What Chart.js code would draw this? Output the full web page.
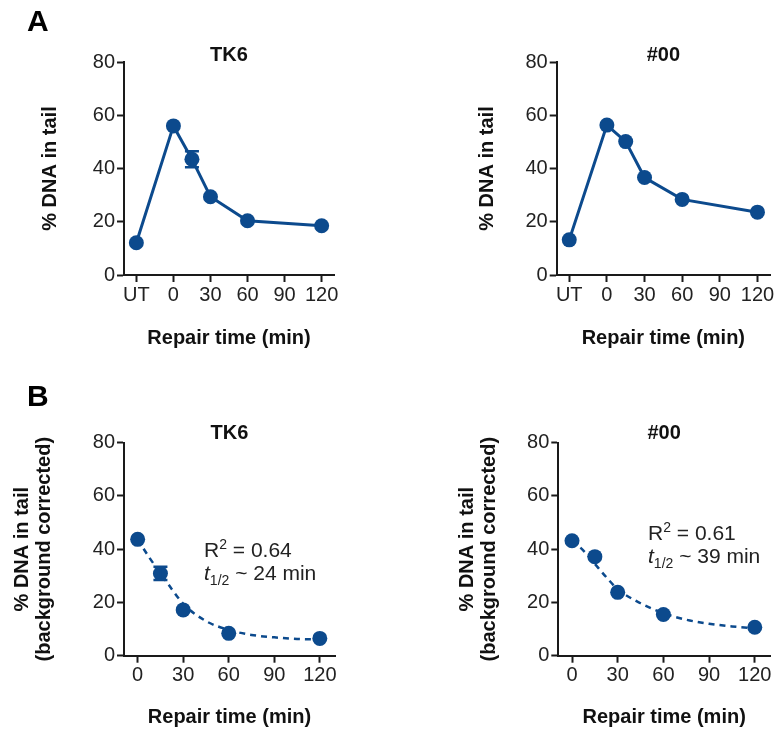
<!DOCTYPE html>
<html>
<head>
<meta charset="utf-8">
<script src="https://cdn.jsdelivr.net/npm/chart.js@4.4.1/dist/chart.umd.min.js"></script>
<style>
  html, body { margin: 0; padding: 0; background: #fff; }
  #wrap { position: relative; width: 780px; height: 734px; overflow: hidden; font-family: 'Liberation Sans', Arial, sans-serif; }
  .cv { position: absolute; }
  .letter { position: absolute; font-weight: bold; font-size: 30px; line-height: 1; color: #000; }
  .note { position: absolute; font-size: 21px; line-height: 23px; color: #222; white-space: nowrap; }
  .note sup { font-size: 14px; vertical-align: 8px; line-height: 0; }
  .note sub { font-size: 14px; vertical-align: -5px; line-height: 0; }
</style>
</head>
<body>
<div id="wrap">
  <canvas id="cA1" class="cv" width="390" height="367" style="left:0;top:0"></canvas>
  <canvas id="cA2" class="cv" width="390" height="367" style="left:390px;top:0"></canvas>
  <canvas id="cB1" class="cv" width="390" height="367" style="left:0;top:367px"></canvas>
  <canvas id="cB2" class="cv" width="390" height="367" style="left:390px;top:367px"></canvas>
  <div class="letter" style="left:27px;top:6px">A</div>
  <div class="letter" style="left:27px;top:381px">B</div>
  <div class="note" style="left:204px;top:538px">R<sup>2</sup> = 0.64<br><i>t</i><sub>1/2</sub> ~ 24 min</div>
  <div class="note" style="left:648px;top:521px">R<sup>2</sup> = 0.61<br><i>t</i><sub>1/2</sub> ~ 39 min</div>
</div>
<script>
// ---------- data ----------
const panelTitles = ['TK6', '#00'];
const yTitleA = '% DNA in tail';
const yTitleB = ['% DNA in tail', '(background corrected)'];
const xTitle = 'Repair time (min)';

// Panel A: x categories (UT = untreated, plotted one step left of 0)
const timesA = ['UT', 0, 15, 30, 60, 120];
const xTickValuesA = [-30, 0, 30, 60, 90, 120];
const xTickLabelsA = ['UT', '0', '30', '60', '90', '120'];
const utPosition = -30;
const tk6Raw = [12.1, 56.0, 43.5, 29.4, 20.4, 18.5];
const tk6RawErr = [0, 0, 3.0, 0, 0, 0];
const c00Raw = [13.2, 56.3, 50.1, 36.6, 28.4, 23.6];
const c00RawErr = [0, 0, 0, 0, 0, 0];

// Panel B: background-corrected values and fitted decay curves
const timesB = [0, 15, 30, 60, 120];
const xTickValuesB = [0, 30, 60, 90, 120];
const tk6Corr = [43.7, 30.9, 17.2, 8.4, 6.5];
const tk6CorrErr = [0, 2.5, 0, 0, 0];
const c00Corr = [43.2, 37.2, 23.8, 15.5, 10.7];
const c00CorrErr = [0, 0, 0, 0, 0];
const fitTimes = [0, 7.5, 15, 22.5, 30, 45, 60, 75, 90, 105, 120];
const tk6Fit = [43.7, 37.0, 31.0, 25.0, 19.5, 13.0, 9.7, 7.8, 6.9, 6.3, 6.1];
const c00Fit = [43.2, 39.5, 34.5, 29.5, 25.0, 19.7, 16.0, 13.5, 12.0, 11.0, 10.3];
const yTicks = [0, 20, 40, 60, 80];

// ---------- styling ----------
const BLUE = '#0c4a8d';
const FONT = "'Liberation Sans', Arial, sans-serif";
const AXIS = '#1a1a1a';

const errorBars = {
  id: 'errorBars',
  afterDatasetsDraw(chart) {
    const ctx = chart.ctx;
    const ys = chart.scales.y;
    chart.data.datasets.forEach((ds, i) => {
      if (!ds.errors) return;
      const meta = chart.getDatasetMeta(i);
      meta.data.forEach((pt, j) => {
        const e = ds.errors[j];
        if (!e) return;
        const v = ds.data[j].y;
        const yTop = ys.getPixelForValue(v + e);
        const yBot = ys.getPixelForValue(v - e);
        ctx.save();
        ctx.strokeStyle = ds.borderColor;
        ctx.lineWidth = 2.5;
        ctx.beginPath();
        ctx.moveTo(pt.x, yTop); ctx.lineTo(pt.x, yBot);
        ctx.moveTo(pt.x - 7, yTop); ctx.lineTo(pt.x + 7, yTop);
        ctx.moveTo(pt.x - 7, yBot); ctx.lineTo(pt.x + 7, yBot);
        ctx.stroke();
        ctx.restore();
      });
    });
  }
};

function xy(xs, ys) {
  return xs.map((x, i) => ({ x: x === 'UT' ? utPosition : x, y: ys[i] }));
}

function makeChart(id, g, title, yTitle, datasets, xMin, tickValues, tickLabels) {
  const tickFont = { family: FONT, size: 20 };
  new Chart(document.getElementById(id), {
    type: 'line',
    data: { datasets },
    plugins: [errorBars],
    options: {
      responsive: false,
      animation: false,
      events: [],
      layout: { padding: { left: 0, top: 0, right: g.padRight, bottom: 0 } },
      plugins: { legend: { display: false }, title: { display: false }, tooltip: { enabled: false } },
      scales: {
        x: {
          type: 'linear', position: 'bottom', min: xMin, max: 130,
          afterBuildTicks: s => { s.ticks = tickValues.map(v => ({ value: v })); },
          afterFit: s => { s.height = g.xHeight; },
          ticks: {
            font: tickFont, color: '#222', padding: 1, maxRotation: 0, autoSkip: false,
            callback: (v) => { const k = tickValues.indexOf(v); return tickLabels ? tickLabels[k] : String(v); }
          },
          grid: { drawOnChartArea: false, drawTicks: true, tickLength: 7, tickWidth: 2, tickColor: AXIS },
          border: { display: true, width: 2, color: AXIS },
          title: { display: true, text: xTitle, color: '#111', font: { family: FONT, size: 20, weight: 'bold' }, padding: { top: 0, bottom: g.xTitlePad } }
        },
        xt: {
          type: 'linear', position: 'top', display: true,
          afterFit: s => { s.height = g.topHeight; },
          ticks: { display: false },
          grid: { display: false, drawTicks: false },
          border: { display: false },
          title: { display: true, text: title, color: '#111', font: { family: FONT, size: 20, weight: 'bold' }, padding: { top: g.titlePad, bottom: 0 } }
        },
        y: {
          type: 'linear', position: 'left', min: 0, max: 80,
          afterBuildTicks: s => { s.ticks = yTicks.map(v => ({ value: v })); },
          afterFit: s => { s.width = g.yWidth; },
          ticks: { font: tickFont, color: '#222', padding: 2 },
          grid: { drawOnChartArea: false, drawTicks: true, tickLength: 7, tickWidth: 2, tickColor: AXIS },
          border: { display: true, width: 2, color: AXIS },
          title: { display: true, text: yTitle, color: '#111', font: { family: FONT, size: 20, weight: 'bold', lineHeight: 1.1 }, padding: { top: g.yTitlePad, bottom: 0 } }
        }
      }
    }
  });
}

function pointsDs(xs, ys, errs, showLine) {
  return {
    data: xy(xs, ys), errors: errs, showLine: showLine,
    borderColor: BLUE, backgroundColor: BLUE, borderWidth: 3,
    pointRadius: 7.5, pointBackgroundColor: BLUE, pointBorderWidth: 0,
    clip: false, order: 0
  };
}
function fitDs(xs, ys) {
  return {
    data: xy(xs, ys), showLine: true, borderColor: BLUE, borderWidth: 2.5,
    borderDash: [6, 5], pointRadius: 0, cubicInterpolationMode: 'monotone',
    clip: false, order: 1
  };
}

makeChart('cA1', { padRight: 56, yWidth: 124, xHeight: 92, topHeight: 62, titlePad: 43, xTitlePad: 17, yTitlePad: 39 },
  panelTitles[0], yTitleA, [pointsDs(timesA, tk6Raw, tk6RawErr, true)], -40, xTickValuesA, xTickLabelsA);
makeChart('cA2', { padRight: 10, yWidth: 166.7, xHeight: 92, topHeight: 62, titlePad: 43, xTitlePad: 17, yTitlePad: 86 },
  panelTitles[1], yTitleA, [pointsDs(timesA, c00Raw, c00RawErr, true)], -40, xTickValuesA, xTickLabelsA);
makeChart('cB1', { padRight: 55, yWidth: 124, xHeight: 78.3, topHeight: 75.7, titlePad: 54, xTitlePad: 5, yTitlePad: 11 },
  panelTitles[0], yTitleB, [pointsDs(timesB, tk6Corr, tk6CorrErr, false), fitDs(fitTimes, tk6Fit)], -9, xTickValuesB, null);
makeChart('cB2', { padRight: 10, yWidth: 168.3, xHeight: 78.3, topHeight: 75.7, titlePad: 54, xTitlePad: 5, yTitlePad: 66 },
  panelTitles[1], yTitleB, [pointsDs(timesB, c00Corr, c00CorrErr, false), fitDs(fitTimes, c00Fit)], -9, xTickValuesB, null);
</script>
</body>
</html>
